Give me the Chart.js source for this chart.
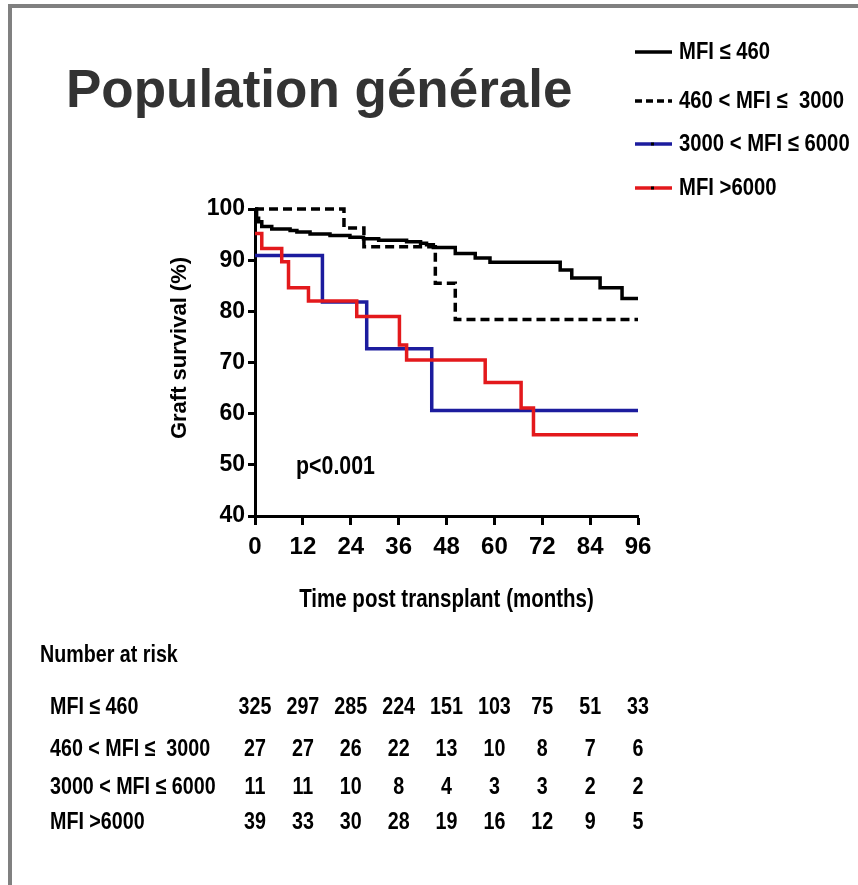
<!DOCTYPE html>
<html lang="fr">
<head>
    <meta charset="UTF-8">
    <title>Population générale</title>
    <script src="https://cdn.jsdelivr.net/npm/chart.js@4.4.1/dist/chart.umd.min.js"></script>
    <style>
        body { margin: 0; background: #fff; }
        #km { display: block; }
    </style>
</head>
<body>
    <canvas id="km" width="858" height="885"></canvas>

    <script>
        // Kaplan-Meier curves (months, % survival)
        const solidTimes  = [0, 0.4, 0.9, 1.7, 4.2, 8.8, 10.5, 13.8, 18.8, 23.8, 27.2, 31, 38, 41.5, 43, 44.7, 50.2, 55.2, 58.9, 76.5, 79.4, 86.5, 92, 96];
        const solidSurv   = [100, 98.2, 97.5, 96.6, 96.1, 95.8, 95.5, 95.1, 94.8, 94.5, 94.2, 93.9, 93.6, 93.3, 93.0, 92.5, 91.3, 90.4, 89.6, 88.1, 86.5, 84.6, 82.5, 82.5];
        const dashedTimes = [0, 22.3, 27.3, 45.2, 50.2, 96];
        const dashedSurv  = [100, 96.3, 92.6, 85.5, 78.4, 78.4];
        const blueTimes   = [0, 16.9, 28.0, 44.3, 96];
        const blueSurv    = [90.9, 81.8, 72.7, 60.6, 60.6];
        const redTimes    = [0, 1.7, 6.7, 8.4, 13.4, 25.5, 36.2, 38.0, 57.7, 66.7, 69.8, 96];
        const redSurv     = [95.2, 92.3, 89.7, 84.6, 82.0, 79.0, 73.4, 70.5, 66.1, 61.1, 55.9, 55.9];

        const groupLabels = ['MFI \u2264 460', '460 < MFI \u2264  3000', '3000 < MFI \u2264 6000', 'MFI >6000'];
        const riskTimes = [0, 12, 24, 36, 48, 60, 72, 84, 96];
        const riskSolid  = [325, 297, 285, 224, 151, 103, 75, 51, 33];
        const riskDashed = [27, 27, 26, 22, 13, 10, 8, 7, 6];
        const riskBlue   = [11, 11, 10, 8, 4, 3, 3, 2, 2];
        const riskRed    = [39, 33, 30, 28, 19, 16, 12, 9, 5];

        const ARIAL = '"Liberation Sans", Arial, sans-serif';
        const BLUE = '#1c1c9e';
        const RED = '#e3191c';
        const SQUEEZE = 0.82; // fake Arial Narrow

        function pts(ts, vs) {
            return ts.map((t, i) => ({ x: t, y: vs[i] }));
        }

        function line(data, color, dash) {
            return {
                data: data,
                borderColor: color,
                borderWidth: 3.5,
                borderDash: dash || [],
                pointRadius: 0,
                stepped: 'before',
                fill: false,
                clip: 6
            };
        }

        // condensed bold text: Liberation Sans squeezed horizontally
        function narrow(ctx, text, x, y, size, align, squeeze) {
            ctx.save();
            ctx.translate(x, y);
            ctx.scale(squeeze || SQUEEZE, 1);
            ctx.font = 'bold ' + size + 'px ' + ARIAL;
            ctx.textAlign = align || 'left';
            ctx.textBaseline = 'middle';
            ctx.fillText(text, 0, 0);
            ctx.restore();
        }

        const legendItems = [
            { label: groupLabels[0], color: '#000', dash: [] },
            { label: groupLabels[1], color: '#000', dash: [7, 4] },
            { label: groupLabels[2], color: BLUE, dash: [], dot: true },
            { label: groupLabels[3], color: RED, dash: [], dot: true }
        ];
        const riskRows = [riskSolid, riskDashed, riskBlue, riskRed];
        const riskRowY = [707, 749, 787, 822];

        const decorations = {
            id: 'decorations',
            beforeDraw(chart) {
                const ctx = chart.ctx;
                ctx.save();
                ctx.fillStyle = '#fff';
                ctx.fillRect(0, 0, chart.width, chart.height);
                ctx.fillStyle = '#808080';
                ctx.fillRect(8, 4, chart.width - 8, 4);
                ctx.fillRect(8, 4, 4, chart.height - 4);
                ctx.restore();
            },
            afterDraw(chart) {
                const ctx = chart.ctx;
                const xs = chart.scales.x, ys = chart.scales.y;
                ctx.save();

                // title
                ctx.fillStyle = '#333';
                ctx.font = 'bold 53px ' + ARIAL;
                ctx.textBaseline = 'alphabetic';
                ctx.textAlign = 'left';
                ctx.fillText('Population générale', 66, 107);

                // legend
                const legY = [52, 101, 144, 188];
                legendItems.forEach((it, i) => {
                    ctx.strokeStyle = it.color;
                    ctx.lineWidth = 3.5;
                    ctx.setLineDash(it.dash);
                    ctx.beginPath();
                    ctx.moveTo(635, legY[i]);
                    ctx.lineTo(672, legY[i]);
                    ctx.stroke();
                    ctx.setLineDash([]);
                    if (it.dot) {
                        ctx.fillStyle = '#000';
                        ctx.fillRect(651, legY[i] - 1.5, 3, 3);
                    }
                    ctx.fillStyle = '#000';
                    narrow(ctx, it.label, 679, legY[i], 24, 'left', 0.845);
                });

                // axis titles
                ctx.fillStyle = '#000';
                ctx.font = 'bold 22px ' + ARIAL;
                ctx.textAlign = 'center';
                ctx.textBaseline = 'middle';
                ctx.save();
                ctx.translate(180, 348);
                ctx.rotate(-Math.PI / 2);
                ctx.fillText('Graft survival (%)', 0, 0);
                ctx.restore();

                narrow(ctx, 'Time post transplant (months)', (xs.left + xs.right) / 2, 600, 25, 'center');

                // p value
                narrow(ctx, 'p<0.001', xs.getPixelForValue(10.3), ys.getPixelForValue(49.6), 26);

                // number at risk table
                narrow(ctx, 'Number at risk', 40, 655, 24);
                riskRows.forEach((row, r) => {
                    narrow(ctx, groupLabels[r], 50, riskRowY[r], 24);
                    row.forEach((n, k) => {
                        narrow(ctx, String(n), xs.getPixelForValue(riskTimes[k]), riskRowY[r], 24, 'center');
                    });
                });
                ctx.restore();
            }
        };

        new Chart(document.getElementById('km'), {
            type: 'line',
            data: {
                datasets: [
                    line(pts(solidTimes, solidSurv), '#000'),
                    line(pts(dashedTimes, dashedSurv), '#000', [9, 5]),
                    line(pts(redTimes, redSurv), RED),
                    line(pts(blueTimes, blueSurv), BLUE)
                ]
            },
            options: {
                responsive: false,
                animation: false,
                events: [],
                layout: { padding: { left: 195, top: 209, right: 220, bottom: 309 } },
                plugins: { legend: { display: false }, tooltip: { enabled: false } },
                scales: {
                    x: {
                        type: 'linear',
                        min: 0,
                        max: 96,
                        afterFit(s) { s.height = 60; },
                        ticks: { stepSize: 12, color: '#000', padding: 8, font: { family: ARIAL, size: 24, weight: 'bold' } },
                        grid: { drawOnChartArea: false, tickLength: 9, tickWidth: 3, tickColor: '#000' },
                        border: { color: '#000', width: 3 }
                    },
                    y: {
                        min: 40,
                        max: 100,
                        afterFit(s) { s.width = 60; },
                        ticks: { stepSize: 10, color: '#000', padding: 3, font: { family: ARIAL, size: 23, weight: 'bold' } },
                        grid: { drawOnChartArea: false, tickLength: 7, tickWidth: 3, tickColor: '#000' },
                        border: { color: '#000', width: 3 }
                    }
                }
            },
            plugins: [decorations]
        });
    </script>
</body>
</html>
